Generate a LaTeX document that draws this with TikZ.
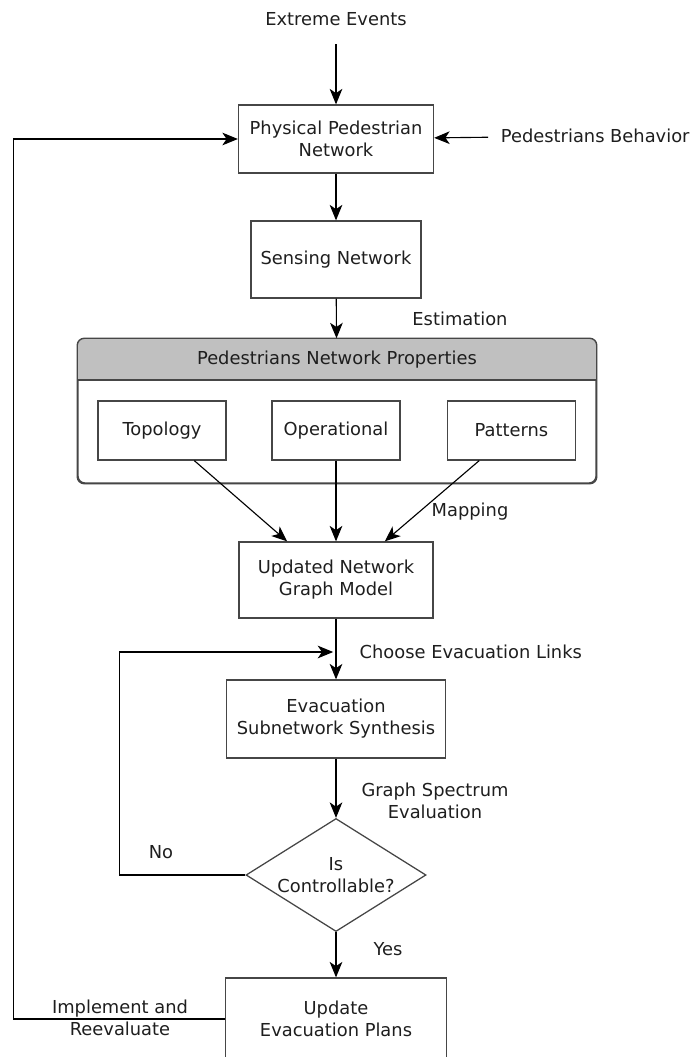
\documentclass[tikz,border=0pt]{standalone}
\usepackage{fontspec}
\setmainfont{DejaVu Sans}
\usetikzlibrary{arrows.meta, shapes.geometric, calc, shadows}
\definecolor{xInk}{RGB}{30,30,30}
\definecolor{xEdge}{RGB}{70,70,70}
\definecolor{xHead}{RGB}{192,192,192}
\tikzset{
  stage/.style={draw=xEdge, line width=0.9pt, align=center, text=xInk, inner sep=2pt},
  group/.style={draw=xEdge, line width=1pt, fill=white, rounded corners=5pt,
                drop shadow={opacity=0.15, shadow xshift=1pt, shadow yshift=-1pt},
                minimum width=12.95cm, minimum height=3.6cm},
  decide/.style={diamond, draw=xEdge, line width=0.9pt, inner sep=0pt,
                 minimum width=4.5cm, minimum height=2.825cm},
  tag/.style={align=center, text=xInk, inner sep=1pt},
  flow/.style={-{Stealth[length=11pt, width=9pt, inset=3pt]}, line width=0.8pt, black},
}
\begin{document}
\begin{tikzpicture}[x=0.025cm, y=-0.025cm, font=\fontsize{12.7}{15.6}\selectfont]
    \useasboundingbox (0,0) rectangle (692,1057);
    \node[tag] (ev) at (336,19) {Extreme Events};
    \node[stage, minimum width=4.875cm, minimum height=1.7cm] (phys) at (336,139) {Physical Pedestrian\\Network};
    \node[tag, anchor=west, inner xsep=9pt] (beh) at (488,136) {Pedestrians Behavior};
    \node[stage, minimum width=4.25cm, minimum height=1.925cm] (sense) at (336,259.5) {Sensing Network};
    \node[tag] (est) at (460,319) {Estimation};
    % properties container
    \node[group] (props) at (337,411) {};
    \begin{scope}
      \clip[rounded corners=5pt] (props.north west) rectangle (props.south east);
      \fill[xHead] (props.north west) rectangle (props.east |- 0,380);
    \end{scope}
    \draw[xEdge, line width=1.4pt] (props.west |- 0,380) -- (props.east |- 0,380);
    \draw[xEdge, line width=1pt, rounded corners=5pt] (props.north west) rectangle (props.south east);
    \node[tag] (propshead) at (337,360) {Pedestrians Network Properties};
    \node[stage, minimum width=3.2cm, minimum height=1.475cm] (topo) at (162,430.5) {Topology};
    \node[stage, minimum width=3.2cm, minimum height=1.475cm] (oper) at (336,430.5) {Operational};
    \node[stage, minimum width=3.2cm, minimum height=1.475cm] (pat) at (511.5,430.5) {Patterns};
    \node[tag] (map) at (470,512) {Mapping};
    \node[stage, minimum width=4.85cm, minimum height=1.9cm] (upd) at (336,580) {Updated Network\\Graph Model};
    \coordinate (merge) at (336,652);
    \node[tag, anchor=west] (choose) at (358,652) {Choose Evacuation Links};
    \node[stage, minimum width=5.475cm, minimum height=1.95cm] (evac) at (336,719) {Evacuation\\Subnetwork Synthesis};
    \node[tag] (spec) at (435,801) {Graph Spectrum\\Evaluation};
    \node[decide, label={[tag]center:Is\\Controllable?}] (ctrl) at (336,875) {};
    \node[tag] (no) at (161,852) {No};
    \node[tag] (yes) at (388,949) {Yes};
    \node[stage, minimum width=5.525cm, minimum height=2.05cm] (plans) at (336,1019) {Update\\Evacuation Plans};
    \node[tag] (impl) at (120,1018) {Implement and\\Reevaluate};
    % connectors
    \draw[flow, shorten <=12pt] (ev) -- (phys);
    \draw[flow] (beh) -- (phys);
    \draw[flow] (phys) -- (sense);
    \draw[flow] (sense) -- (props);
    \draw[flow] ($(topo.south)!.5!(topo.south east)$) -- ($(upd.north)!.5!(upd.north west)$);
    \draw[flow] (oper) -- (upd);
    \draw[flow] ($(pat.south)!.5!(pat.south west)$) -- ($(upd.north)!.5!(upd.north east)$);
    \draw[flow] (upd) -- (evac);
    \draw[flow] (evac) -- (ctrl);
    \draw[flow] (ctrl) -- (plans);
    \draw[flow, shorten >=2pt] (ctrl.west) -- ++(-126,0) |- (merge);
    \draw[flow] (plans.west) -- ++(-211,0) |- (phys.west);
\end{tikzpicture}
\end{document}
